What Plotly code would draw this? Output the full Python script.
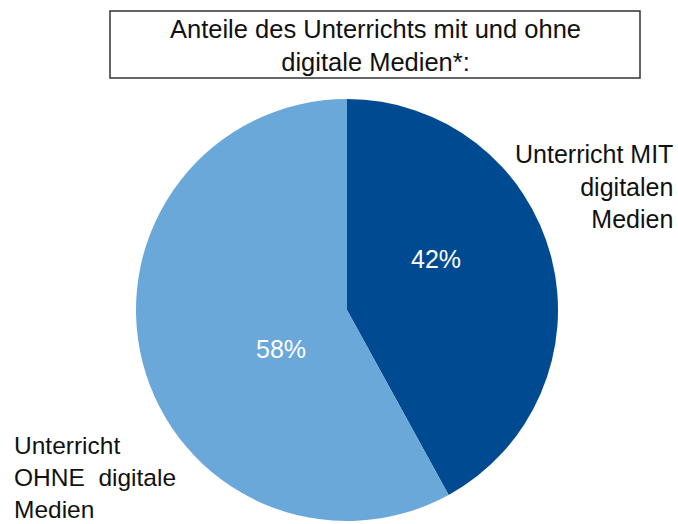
import plotly.graph_objects as go

categories = ["Unterricht MIT<br>digitalen<br>Medien", "Unterricht<br>OHNE  digitale<br>Medien"]
values = [42, 58]
colors = ["#004A91", "#6AA8DA"]
title_text = "Anteile des Unterrichts mit und ohne<br>digitale Medien*:"

W, H = 678, 524
cx, cy, r = 347, 310, 211
FONT = "Liberation Sans, Arial"

def px(x):
    return x / W

def py(y):
    return 1 - y / H

fig = go.Figure(go.Pie(
    labels=categories,
    values=values,
    sort=False,
    direction="clockwise",
    rotation=0,
    marker=dict(colors=colors, line=dict(width=0)),
    textinfo="none",
    showlegend=False,
    hoverinfo="label+percent",
    domain=dict(x=[px(cx - r), px(cx + r)], y=[py(cy + r), py(cy - r)]),
))

# percentage labels inside slices
pct_pos = [(436, 259), (281, 349)]
for v, (x, y) in zip(values, pct_pos):
    fig.add_annotation(text=f"{v}%", xref="paper", yref="paper",
                       x=px(x), y=py(y), showarrow=False,
                       xanchor="center", yanchor="middle",
                       font=dict(size=25, color="white", family=FONT))

# title box
fig.add_shape(type="rect", xref="paper", yref="paper",
              x0=px(110), x1=px(640), y0=py(78), y1=py(11),
              line=dict(color="#333333", width=1.5), fillcolor="white")

fig.add_annotation(text=title_text, xref="paper", yref="paper",
                   x=px(375), y=py(45), showarrow=False,
                   xanchor="center", yanchor="middle", align="center",
                   font=dict(size=25.5, color="#111111", family=FONT))

fig.add_annotation(text=categories[0], xref="paper", yref="paper",
                   x=px(675), y=py(186), showarrow=False,
                   xanchor="right", yanchor="middle", align="right",
                   font=dict(size=25, color="#111111", family=FONT))

fig.add_annotation(text=categories[1], xref="paper", yref="paper",
                   x=px(12), y=py(477), showarrow=False,
                   xanchor="left", yanchor="middle", align="left",
                   font=dict(size=24.5, color="#111111", family=FONT))

fig.update_layout(width=W, height=H, margin=dict(l=0, r=0, t=0, b=0),
                  paper_bgcolor="white", plot_bgcolor="white")

fig.write_html("out.html", config={"displayModeBar": False},
               post_script="document.body.style.margin='0';document.body.style.overflow='hidden';")
